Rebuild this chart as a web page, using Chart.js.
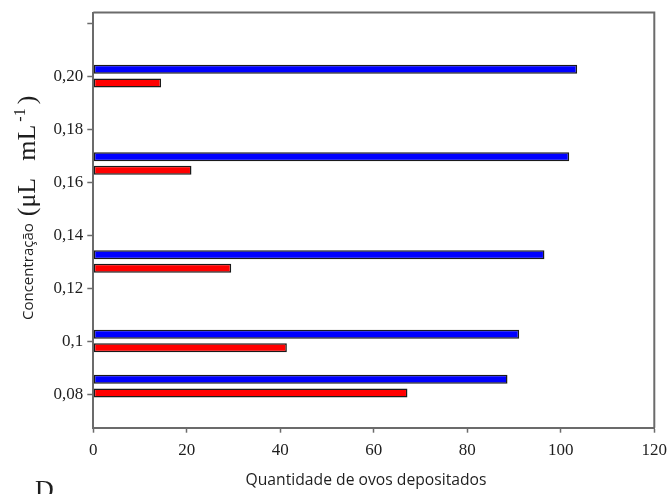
<!DOCTYPE html>
<html>
<head>
<meta charset="utf-8">
<script src="https://cdn.jsdelivr.net/npm/chart.js@4.4.0/dist/chart.umd.min.js"></script>
<style>
  html, body { margin: 0; padding: 0; background: #ffffff; }
  #wrap { width: 668px; height: 494px; }
</style>
</head>
<body>
<div id="wrap"><canvas id="c" width="668" height="494"></canvas></div>
<script>
// ---- data ----
const concentrations = [0.083, 0.1, 0.13, 0.167, 0.2];
const blueValues = [88.6, 91.1, 96.5, 101.8, 103.5];
const redValues = [67.2, 41.4, 29.5, 21.0, 14.5];
const yTickValues = [0.08, 0.10, 0.12, 0.14, 0.16, 0.18, 0.20, 0.22];
const yTickLabels = ['0,08', '0,1', '0,12', '0,14', '0,16', '0,18', '0,20', ''];
const xTickLabels = ['0', '20', '40', '60', '80', '100', '120'];
const xTitle = 'Quantidade de ovos depositados';
const yTitleSans = 'Concentração ';
const yTitleUnit1 = '(μL';
const yTitleUnit2 = 'mL';
const yTitleSup = '-1';
const yTitleEnd = ')';
const panelLetter = 'D';

const AXIS = '#6b6b6b';
const TEXT = '#1e1e1e';

const framePlugin = {
  id: 'frame',
  afterDraw(chart) {
    const ctx = chart.ctx;
    const a = chart.chartArea;
    ctx.save();
    ctx.strokeStyle = AXIS;
    ctx.lineWidth = 2;
    ctx.beginPath();
    ctx.moveTo(a.left, a.top);
    ctx.lineTo(a.right, a.top);
    ctx.lineTo(a.right, a.bottom);
    ctx.stroke();

    // x title
    ctx.fillStyle = TEXT;
    ctx.font = '15.7px "Open Sans"';
    ctx.textAlign = 'center';
    ctx.textBaseline = 'alphabetic';
    ctx.fillText(xTitle, 366, 485);

    // y title (rotated, mixed fonts)
    ctx.save();
    ctx.translate(33, 320);
    ctx.rotate(-Math.PI / 2);
    ctx.textAlign = 'left';
    ctx.textBaseline = 'alphabetic';
    ctx.font = '15px "Open Sans"';
    ctx.fillText(yTitleSans, 0, 0);
    let x = ctx.measureText(yTitleSans).width + 3;
    ctx.translate(0, 2);
    ctx.font = '26px "Liberation Serif"';
    ctx.fillText(yTitleUnit1, x, 0);
    x += ctx.measureText(yTitleUnit1).width + 17;
    ctx.fillText(yTitleUnit2, x, 0);
    x += ctx.measureText(yTitleUnit2).width + 3;
    ctx.font = '16px "Liberation Serif"';
    ctx.fillText(yTitleSup, x, -10);
    x += ctx.measureText(yTitleSup).width + 4;
    ctx.font = '26px "Liberation Serif"';
    ctx.fillText(yTitleEnd, x, 0);
    ctx.restore();

    // panel letter
    ctx.font = '26px "Liberation Serif"';
    ctx.textAlign = 'left';
    ctx.fillText(panelLetter, 35, 498);
    ctx.restore();
  }
};

new Chart(document.getElementById('c'), {
  type: 'bar',
  data: {
    datasets: [
      {
        data: concentrations.map((c, i) => ({ x: blueValues[i], y: c })),
        backgroundColor: '#0000ff',
        borderColor: '#1a1a1a',
        borderWidth: 1.5,
        borderSkipped: false,
        categoryPercentage: 0.604,
        barPercentage: 0.662
      },
      {
        data: concentrations.map((c, i) => ({ x: redValues[i], y: c })),
        backgroundColor: '#ff0000',
        borderColor: '#1a1a1a',
        borderWidth: 1.5,
        borderSkipped: false,
        categoryPercentage: 0.604,
        barPercentage: 0.662
      }
    ]
  },
  options: {
    indexAxis: 'y',
    responsive: false,
    animation: false,
    events: [],
    layout: { padding: { top: 12.5, right: 13.7, left: 0, bottom: 0 } },
    plugins: { legend: { display: false }, tooltip: { enabled: false }, title: { display: false } },
    scales: {
      x: {
        type: 'linear',
        min: 0,
        max: 120,
        offset: false,
        ticks: {
          stepSize: 20,
          color: TEXT,
          font: { family: '"Liberation Serif"', size: 17 },
          padding: 8,
          maxRotation: 0,
          callback: (v, i) => xTickLabels[i]
        },
        grid: { drawOnChartArea: false, drawTicks: true, tickLength: 5, tickColor: AXIS, tickWidth: 1.5 },
        border: { display: true, color: AXIS, width: 2 },
        afterFit(scale) { scale.height = 66.3; scale.paddingRight = 0; scale.paddingLeft = 0; }
      },
      y: {
        type: 'linear',
        min: 0.0673,
        max: 0.224,
        offset: false,
        afterBuildTicks(scale) { scale.ticks = yTickValues.map(v => ({ value: v })); },
        ticks: {
          autoSkip: false,
          color: TEXT,
          font: { family: '"Liberation Serif"', size: 17 },
          padding: 4,
          callback: (v, i) => yTickLabels[i]
        },
        grid: { drawOnChartArea: false, drawTicks: true, tickLength: 6, tickColor: AXIS, tickWidth: 1.5, offset: false },
        border: { display: true, color: AXIS, width: 2 },
        afterFit(scale) { scale.width = 93.3; scale.paddingTop = 0; scale.paddingBottom = 0; }
      }
    }
  },
  plugins: [framePlugin]
});
</script>
</body>
</html>
